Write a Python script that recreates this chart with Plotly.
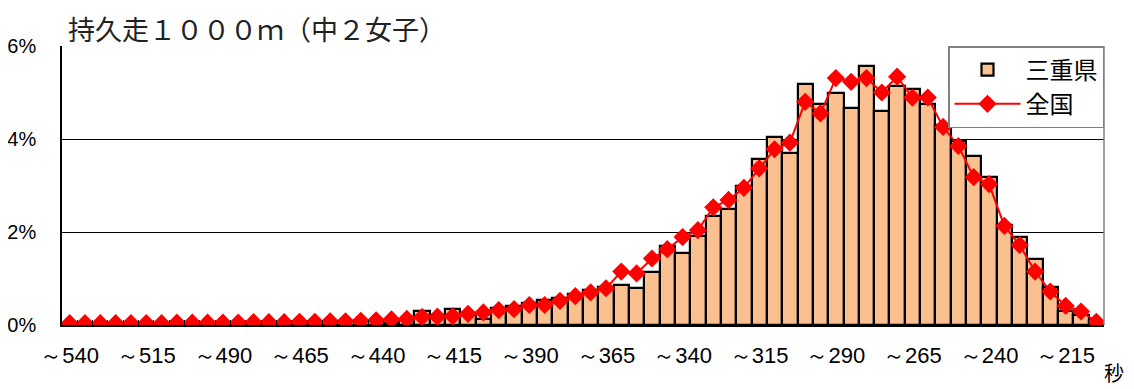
import plotly.graph_objects as go

# Time categories (seconds), slowest to fastest
seconds = [540, 535, 530, 525, 520, 515, 510, 505, 500, 495,
           490, 485, 480, 475, 470, 465, 460, 455, 450, 445,
           440, 435, 430, 425, 420, 415, 410, 405, 400, 395,
           390, 385, 380, 375, 370, 365, 360, 355, 350, 345,
           340, 335, 330, 325, 320, 315, 310, 305, 300, 295,
           290, 285, 280, 275, 270, 265, 260, 255, 250, 245,
           240, 235, 230, 225, 220, 215, 210, 205]

# 三重県 (bars, %)
mie = [0, 0, 0, 0, 0, 0, 0, 0, 0, 0,
       0, 0, 0, 0, 0, 0, 0, 0, 0, 0,
       0, 0.05, 0.10, 0.31, 0.22, 0.34, 0.26, 0.13, 0.36, 0.41,
       0.48, 0.54, 0.58, 0.67, 0.75, 0.82, 0.86, 0.79, 1.14, 1.70,
       1.54, 1.91, 2.34, 2.49, 2.98, 3.56, 4.05, 3.69, 5.18, 4.75,
       4.98, 4.66, 5.58, 4.60, 5.13, 5.08, 4.75, 4.30, 3.96, 3.63,
       3.19, 2.15, 1.89, 1.43, 0.81, 0.30, 0.21, 0.0]

# 全国 (line, %)
national = [0.04, 0.04, 0.04, 0.04, 0.04, 0.04, 0.04, 0.05, 0.05, 0.05,
            0.05, 0.05, 0.06, 0.06, 0.06, 0.07, 0.07, 0.08, 0.08, 0.09,
            0.10, 0.12, 0.13, 0.17, 0.18, 0.19, 0.24, 0.27, 0.32, 0.34,
            0.43, 0.43, 0.52, 0.62, 0.70, 0.79, 1.15, 1.11, 1.43, 1.63,
            1.89, 2.04, 2.53, 2.69, 2.95, 3.37, 3.78, 3.92, 4.80, 4.55,
            5.31, 5.23, 5.31, 5.00, 5.34, 4.89, 4.89, 4.26, 3.85, 3.18,
            3.03, 2.13, 1.72, 1.15, 0.72, 0.41, 0.29, 0.07]

# tick labels shown every 5th category
label_seconds = [540, 515, 490, 465, 440, 415, 390, 365, 340, 315, 290, 265, 240, 215]
y_ticks = [0, 2, 4, 6]
y_ticktext = ["0%", "2%", "4%", "6%"]

cats = [str(s) for s in seconds]
ticktext = [("～" + str(s)) if s in label_seconds else "" for s in seconds]

NUM_FONT = "Liberation Sans, Arial, sans-serif"
JP_FONT = "Noto Sans CJK JP, sans-serif"

fig = go.Figure()
fig.add_trace(go.Bar(
    x=cats, y=mie, name="三重県",
    marker=dict(color="#FAC090", line=dict(color="black", width=2.2)),
    legendgroup="a",
))
fig.add_trace(go.Scatter(
    x=cats, y=national, name="全国", mode="lines+markers",
    line=dict(color="#FF0000", width=2),
    marker=dict(symbol="diamond", size=14, color="#FF0000"),
    legendgroup="b",
))

# page body has an 8px default margin: figure is sized/offset to compensate
fig.update_layout(
    width=1126, height=381,
    margin=dict(l=54, r=30, t=38, b=64),
    plot_bgcolor="white", paper_bgcolor="white",
    bargap=0,
    showlegend=True,
    legend=dict(
        x=1, y=1, xanchor="right", yanchor="top",
        bgcolor="white", bordercolor="#808080", borderwidth=1.5,
        font=dict(family=JP_FONT, size=24, color="black"),
        itemwidth=66, tracegroupgap=0,
    ),
    xaxis=dict(
        type="category", range=[-0.5, len(cats) - 0.5], autorange=False,
        tickmode="array", tickvals=cats, ticktext=ticktext,
        tickson="boundaries", ticks="inside", ticklen=5, tickcolor="black",
        showline=True, linecolor="black", linewidth=2,
        showgrid=False, automargin=False,
        tickfont=dict(family=NUM_FONT, size=22, color="black"),
        ticklabelstandoff=10,
        tickangle=0,
    ),
    yaxis=dict(
        range=[0, 6], autorange=False,
        tickmode="array", tickvals=y_ticks, ticktext=y_ticktext,
        showgrid=True, gridcolor="black", gridwidth=1,
        showline=True, linecolor="black", linewidth=1.5,
        zeroline=False, automargin=False,
        tickfont=dict(family=NUM_FONT, size=20, color="black"),
        ticklabelstandoff=20,
    ),
    annotations=[
        dict(text="持久走１０００ｍ（中２女子）", xref="paper", yref="paper",
             x=0.004, y=1, xanchor="left", yanchor="bottom", yshift=-4,
             showarrow=False, font=dict(family=JP_FONT, size=27, color="#222222")),
        dict(text="秒", xref="paper", yref="paper",
             x=1, y=0, xanchor="left", yanchor="middle", xshift=-2, yshift=-47,
             showarrow=False, font=dict(family=JP_FONT, size=20, color="black")),
    ],
    shapes=[
        dict(type="line", xref="paper", yref="paper", x0=1, x1=1, y0=0, y1=1,
             line=dict(color="#808080", width=1.5)),
    ],
)

fig.write_html("out.html")
